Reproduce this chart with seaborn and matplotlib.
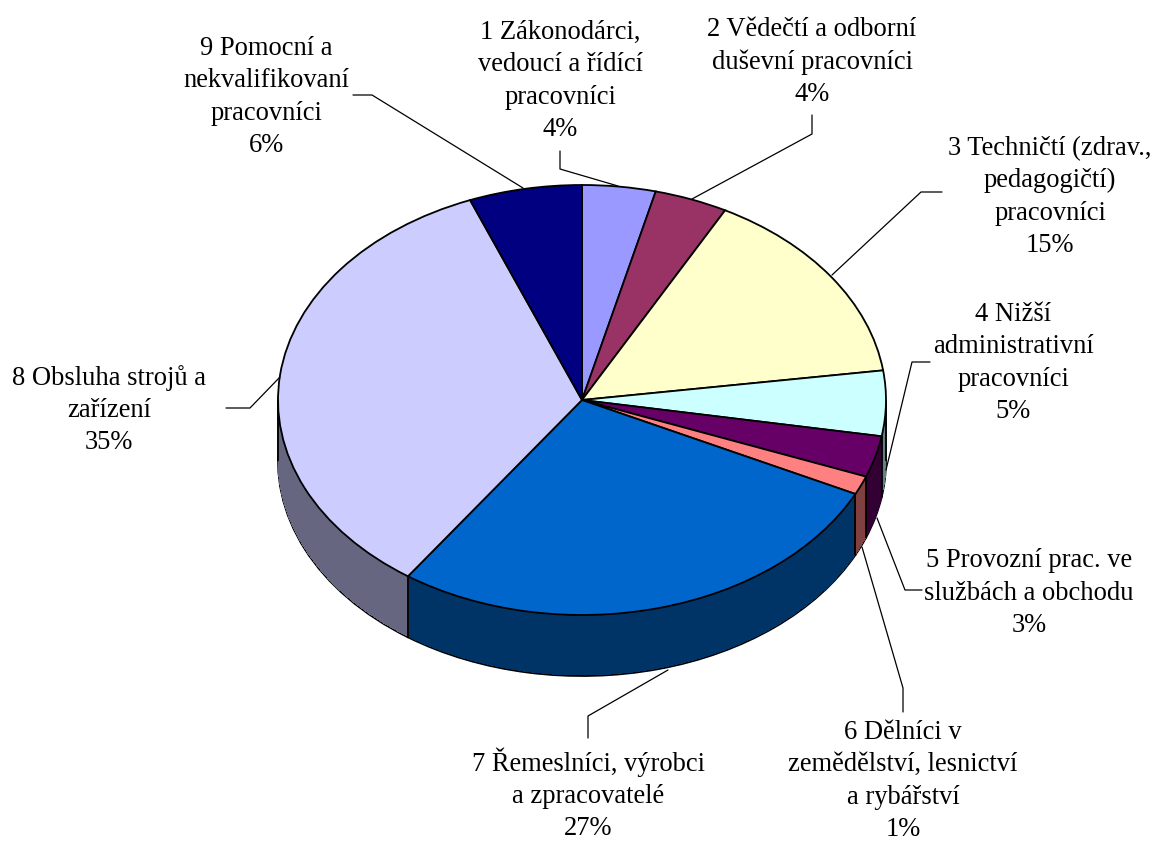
import numpy as np
import matplotlib
matplotlib.use("Agg")
import matplotlib.pyplot as plt
import seaborn as sns

categories = [
    "1 Zákonodárci,\nvedoucí a řídící\npracovníci",
    "2 Vědečtí a odborní\nduševní pracovníci",
    "3 Techničtí (zdrav.,\npedagogičtí)\npracovníci",
    "4 Nižší\nadministrativní\npracovníci",
    "5 Provozní prac. ve\nslužbách a obchodu",
    "6 Dělníci v\nzemědělství, lesnictví\na rybářství",
    "7 Řemeslníci, výrobci\na zpracovatelé",
    "8 Obsluha strojů a\nzařízení",
    "9 Pomocní a\nnekvalifikovaní\npracovníci",
]
percent_labels = ["4%", "4%", "15%", "5%", "3%", "1%", "27%", "35%", "6%"]
values = [3.9, 3.9, 15.0, 4.9, 3.1, 1.4, 27.5, 34.3, 6.0]
top_colors = ["#9999FF", "#993366", "#FFFFCC", "#CCFFFF", "#660066",
              "#FF8080", "#0066CC", "#CCCCFF", "#000080"]
side_colors = ["#4D4D80", "#4D1A33", "#808066", "#668080", "#330033",
               "#804040", "#003366", "#666680", "#000040"]

W, H = 1154, 841
CX, CY, RX, RY, DEPTH = 582, 400, 304, 215, 61
SCALE = RX / RY

sns.set_theme(style="white")
plt.rcParams["font.family"] = ["Liberation Serif", "DejaVu Serif"]

fig = plt.figure(figsize=(W / 100, H / 100), dpi=100, facecolor="white")
ax = fig.add_axes([0, 0, 1, 1])
ax.set_xlim(0, W)
ax.set_ylim(0, H * SCALE)
ax.axis("off")


def ypos(px):
    return (H - px) * SCALE


# side wall: stack of dark pies, bottom one outlined
ax.pie(values, colors=side_colors, startangle=90, counterclock=False,
       center=(CX, ypos(CY + DEPTH)), radius=RX, frame=True,
       wedgeprops=dict(edgecolor="black", linewidth=1.3))
for d in range(DEPTH - 1, 0, -1):
    ax.pie(values, colors=side_colors, startangle=90, counterclock=False,
           center=(CX, ypos(CY + d)), radius=RX, frame=True,
           wedgeprops=dict(edgecolor="none", linewidth=0, antialiased=False))

# vertical edges on the visible wall
angles = 90 - np.cumsum(values) / sum(values) * 360
for a in list(angles) + [0, 180]:
    t = np.deg2rad(a)
    if np.sin(t) <= 1e-9:
        x = CX + RX * np.cos(t)
        y = CY - RY * np.sin(t)
        ax.plot([x, x], [ypos(y), ypos(y + DEPTH)], color="black", lw=1.3,
                solid_capstyle="butt", zorder=20)

# top face
wedges, _ = ax.pie(values, colors=top_colors, startangle=90, counterclock=False,
                   center=(CX, ypos(CY)), radius=RX, frame=True,
                   wedgeprops=dict(edgecolor="black", linewidth=1.3))
for w in wedges:
    w.set_zorder(30)
ax.set_aspect("auto")
ax.set_xlim(0, W)
ax.set_ylim(0, H * SCALE)
ax.axis("off")

# overlay in pixel coordinates for labels and leader lines
ov = fig.add_axes([0, 0, 1, 1], facecolor="none")
ov.set_xlim(0, W)
ov.set_ylim(H, 0)
ov.axis("off")

label_pos = [(560, 81), (812, 62), (1050, 197), (1013, 363), (1029, 593),
             (903, 781), (588, 794), (109, 410), (266, 97)]
leaders = [
    [(560, 151), (560, 169), (618, 186)],
    [(812, 115), (812, 134), (692, 199)],
    [(832, 275), (921, 192), (942, 192)],
    [(930, 362), (912, 362), (886, 470)],
    [(877, 518), (905, 590), (922, 590)],
    [(862, 547), (903, 688), (903, 712)],
    [(668, 670), (588, 716), (588, 738)],
    [(280, 377), (250, 408), (226, 408)],
    [(523, 188), (372, 95), (353, 95)],
]
for cat, pct, (x, y), pts in zip(categories, percent_labels, label_pos, leaders):
    ov.text(x, y, f"{cat}\n{pct}", ha="center", va="center", fontsize=19.1,
            linespacing=1.38, color="black")
    xs, ys = zip(*pts)
    ov.plot(xs, ys, color="black", lw=0.9)

fig.savefig("out.png", dpi=100, facecolor="white")
